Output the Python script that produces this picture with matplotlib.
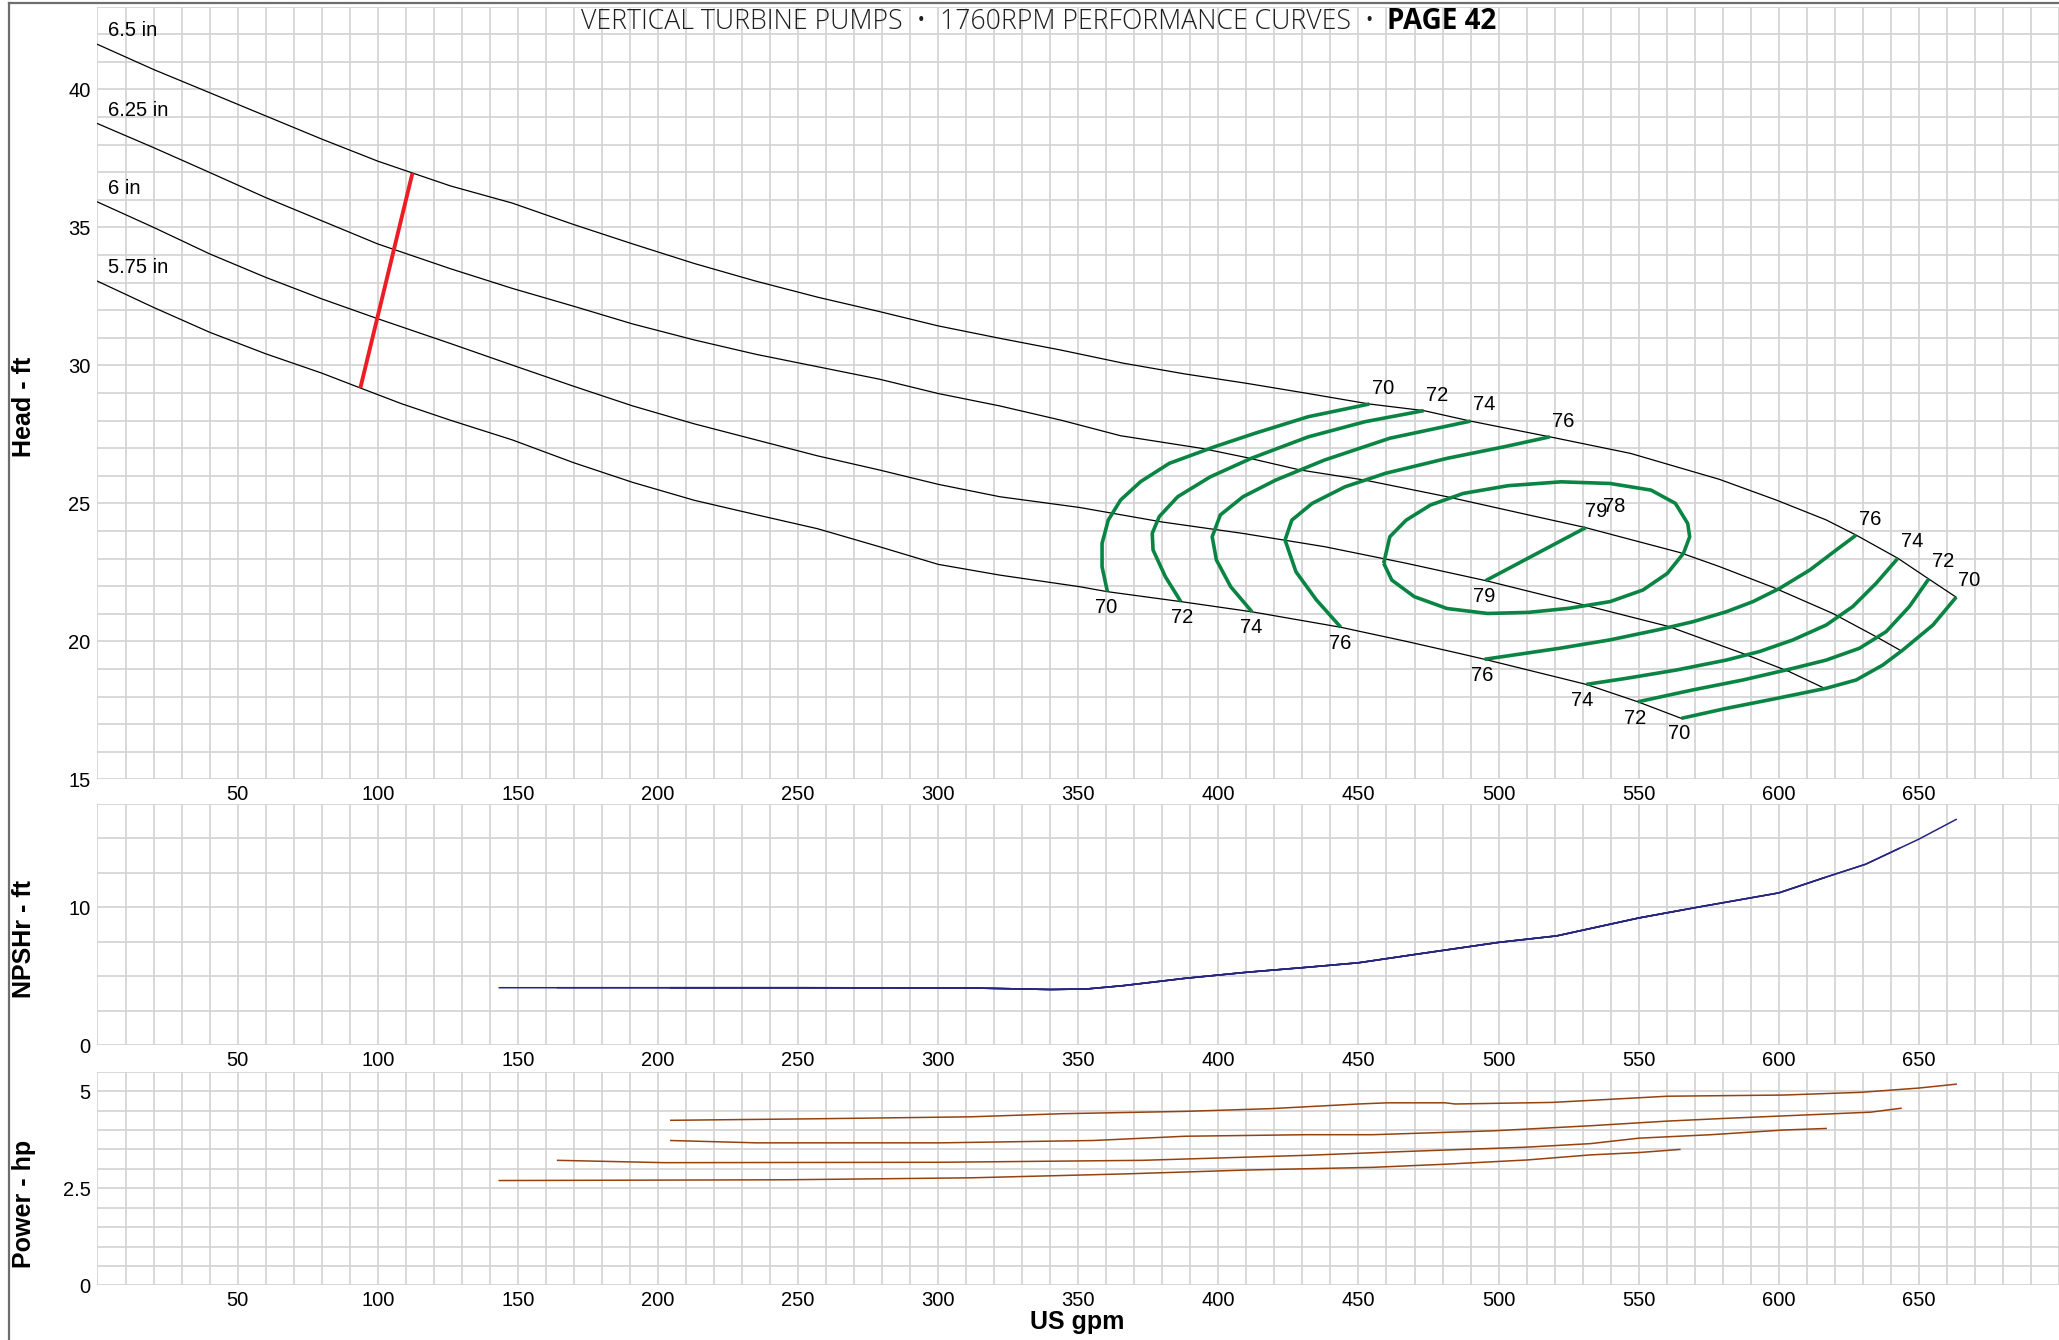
import numpy as np
import matplotlib
matplotlib.use("Agg")
import matplotlib.pyplot as plt
from matplotlib.lines import Line2D

plt.rcParams['font.family'] = ['Liberation Sans', 'DejaVu Sans']

# head curves, one per impeller diameter (gpm, ft)
diameters = ['6.5 in', '6.25 in', '6 in', '5.75 in']
head_flow = [
    [0, 20, 40, 60, 80, 100, 112.4, 126, 148, 170, 191, 213, 235, 257, 279, 300, 322, 344, 366, 388,
     410, 432, 453.9, 473.3, 490, 518.3, 547.1, 578.8, 599.1, 616.9, 627.6, 642.5, 653.5, 663.3],
    [0, 20, 40, 60, 80, 100, 126, 148, 170, 191, 213, 235, 257, 279, 300, 322, 344, 365.1, 394.2, 410,
     429.1, 452.4, 481.6, 510.7, 530.7, 564.6, 578.8, 597.9, 619.3, 634.7, 643.1],
    [0, 20, 40, 60, 80, 100, 126, 148, 170, 191, 213, 235, 257, 279, 300, 322, 350.5, 379.6, 408.8,
     437.9, 467, 495.4, 528, 561, 587.2, 603.8, 616.3],
    [0, 20, 40, 60, 80, 93.8, 108.5, 126, 148, 170, 191, 213, 235, 257, 279, 300, 322, 350.5, 360.4,
     386.6, 412, 443.7, 467, 486.1, 495, 531.3, 549.7, 565.2],
]
head_ft = [
    [41.63, 40.72, 39.88, 39.04, 38.2, 37.4, 36.97, 36.5, 35.88, 35.1, 34.4, 33.69, 33.05, 32.47, 31.95,
     31.43, 30.98, 30.55, 30.08, 29.69, 29.35, 28.98, 28.6, 28.36, 27.98, 27.41, 26.81, 25.87, 25.12,
     24.4, 23.85, 23.01, 22.26, 21.6],
    [38.76, 37.89, 36.99, 36.08, 35.24, 34.4, 33.5, 32.79, 32.14, 31.5, 30.92, 30.4, 29.95, 29.5, 28.98,
     28.53, 28.01, 27.45, 26.99, 26.66, 26.21, 25.84, 25.24, 24.58, 24.13, 23.22, 22.71, 21.96, 21.01,
     20.17, 19.69],
    [35.92, 35.0, 34.04, 33.19, 32.41, 31.69, 30.79, 30.01, 29.24, 28.53, 27.88, 27.3, 26.72, 26.21, 25.69,
     25.24, 24.85, 24.33, 23.91, 23.43, 22.83, 22.2, 21.38, 20.53, 19.56, 18.9, 18.3],
    [33.05, 32.1, 31.2, 30.42, 29.72, 29.18, 28.61, 28.01, 27.3, 26.47, 25.76, 25.11, 24.59, 24.08, 23.43,
     22.79, 22.4, 21.98, 21.8, 21.44, 21.07, 20.51, 20.0, 19.56, 19.35, 18.44, 17.81, 17.21],
]
diam_label_ft = [42.13, 39.24, 36.42, 33.55]

# minimum flow line
minflow_gpm = [112.4, 93.8]
minflow_ft = [36.97, 29.18]

# efficiency contours (gpm, ft)
eff_lines = [
    ([360.4, 358.5, 358.5, 360.7, 365.1, 372.3, 382.5, 398.6, 413.1, 432.1, 453.9],
     [21.8, 22.7, 23.55, 24.39, 25.12, 25.79, 26.45, 27.05, 27.54, 28.14, 28.6]),
    ([386.6, 381.1, 376.7, 376.4, 378.9, 385.5, 397.1, 411.7, 432.1, 452.4, 473.3],
     [21.44, 22.34, 23.31, 23.91, 24.52, 25.24, 25.96, 26.63, 27.41, 27.96, 28.36]),
    ([412.0, 404.4, 399.3, 397.8, 400.7, 408.8, 420.4, 437.9, 461.2, 490.0],
     [21.07, 21.98, 22.95, 23.79, 24.58, 25.24, 25.84, 26.57, 27.36, 27.98]),
    ([443.7, 435.0, 427.7, 423.8, 426.2, 433.5, 445.2, 459.7, 481.6, 502.0, 518.3],
     [20.51, 21.5, 22.52, 23.67, 24.39, 25.0, 25.6, 26.09, 26.63, 27.05, 27.41]),
    ([627.6, 620.5, 611.0, 600.3, 590.8, 581.2, 569.3, 557.5, 539.6, 521.8, 495.0],
     [23.85, 23.31, 22.58, 21.92, 21.44, 21.07, 20.71, 20.43, 20.05, 19.75, 19.35]),
    ([642.5, 634.7, 626.4, 616.9, 605.0, 593.1, 581.2, 563.4, 545.6, 531.3],
     [23.01, 22.1, 21.26, 20.59, 20.05, 19.63, 19.32, 18.96, 18.66, 18.44]),
    ([653.5, 646.6, 638.3, 628.8, 616.9, 605.0, 587.2, 569.3, 549.7],
     [22.26, 21.26, 20.35, 19.75, 19.32, 19.02, 18.6, 18.24, 17.81]),
    ([663.3, 655.0, 644.3, 637.1, 627.6, 616.9, 599.1, 581.2, 565.2],
     [21.6, 20.59, 19.69, 19.14, 18.6, 18.3, 17.93, 17.57, 17.21]),
    ([495.4, 531.1], [22.2, 24.12]),
    ([459.0, 461.2, 467.0, 475.7, 487.4, 503.4, 522.3, 539.8, 554.4, 563.1, 567.5, 568.2, 566.0, 560.2,
      551.5, 539.8, 525.3, 510.7, 496.1, 481.6, 469.9, 461.9, 459.0],
     [22.83, 23.79, 24.39, 24.94, 25.36, 25.64, 25.78, 25.72, 25.48, 25.0, 24.27, 23.79, 23.19, 22.46,
      21.86, 21.44, 21.2, 21.05, 21.01, 21.19, 21.62, 22.22, 22.83]),
]
eff_text = ['70', '72', '74', '76', '70', '72', '74', '76', '76', '74', '72', '70',
            '76', '74', '72', '70', '79', '79', '78']
eff_text_gpm = [458.7, 478.0, 494.8, 523.0, 360.0, 386.9, 411.7, 443.6, 632.5, 647.5, 658.5, 668.1,
                494.1, 529.9, 548.7, 564.4, 494.8, 535.0, 541.4]
eff_text_ft = [29.16, 28.92, 28.58, 27.98, 21.23, 20.87, 20.49, 19.92, 24.42, 23.61, 22.88, 22.22,
               18.78, 17.85, 17.21, 16.66, 21.64, 24.7, 24.88]

# NPSHr
npsh_gpm = [143.4, 200, 250, 309.5, 325, 340, 353, 366, 388, 410, 432, 450, 470.7, 500, 520.7, 550,
            570.7, 600, 617.2, 631, 650, 663.3]
npsh_ft = [4.17, 4.17, 4.17, 4.16, 4.1, 4.04, 4.08, 4.32, 4.85, 5.29, 5.66, 5.98, 6.6, 7.46, 7.93, 9.23,
           10.0, 11.05, 12.22, 13.13, 14.95, 16.38]
npsh_start = [204.6, 204.6, 164.2, 143.4]
npsh_end = [663.3, 643.1, 616.2, 566.0]

# power curves
power_gpm = [
    [204.6, 257, 311.6, 344.4, 388.1, 418.7, 450, 460.3, 481, 484.5, 501.7, 519, 539.7, 560.3, 601.7,
     629.3, 650, 663.3],
    [204.6, 235.2, 300.7, 355.3, 388.1, 431.8, 455.2, 498.3, 532.8, 560.3, 581, 610.3, 632.8, 643.6],
    [164.2, 202.4, 300.7, 372.8, 431.8, 463.8, 510.3, 532.8, 550, 575.9, 601.7, 616.9],
    [143.4, 246.1, 311.6, 366.3, 410, 455.2, 481, 510.3, 532.8, 550, 564.7],
]
power_hp = [
    [4.25, 4.29, 4.34, 4.42, 4.48, 4.55, 4.67, 4.70, 4.70, 4.67, 4.69, 4.71, 4.79, 4.87, 4.90, 4.97,
     5.08, 5.18],
    [3.73, 3.67, 3.67, 3.73, 3.84, 3.88, 3.88, 3.98, 4.11, 4.23, 4.30, 4.39, 4.46, 4.56],
    [3.22, 3.16, 3.17, 3.22, 3.35, 3.44, 3.56, 3.65, 3.79, 3.88, 4.0, 4.04],
    [2.70, 2.72, 2.77, 2.87, 2.97, 3.04, 3.12, 3.23, 3.36, 3.42, 3.50],
]

x_ticks = list(range(50, 700, 50))
grid_col = '#d2d2d2'
green = '#0a8443'

fig = plt.figure(figsize=(20.59, 13.4), dpi=100)
ax1 = fig.add_axes([0.04735, 0.4184, 0.95265, 0.5767])
ax2 = fig.add_axes([0.04735, 0.2200, 0.95265, 0.1800])
ax3 = fig.add_axes([0.04735, 0.0407, 0.95265, 0.1595])


def style(ax, ylo, ymax, ystep, yticks, ylabels):
    ax.set_xlim(0, 700)
    ax.set_ylim(ylo, ymax)
    ax.set_xticks(x_ticks)
    ax.set_xticklabels([str(v) for v in x_ticks])
    ax.set_yticks(yticks)
    ax.set_yticklabels(ylabels)
    for v in np.arange(0, 701, 10):
        ax.axvline(v, color=grid_col, lw=1.2, zorder=0)
    for v in np.arange(ylo, ymax + 0.001, ystep):
        ax.axhline(v, color=grid_col, lw=1.2, zorder=0)
    for s in ax.spines.values():
        s.set_visible(False)
    ax.tick_params(which='both', length=0, labelsize=14.5, pad=5, colors='black')
    ax.tick_params(axis='x', pad=4)


style(ax1, 15, 43, 1, [15, 20, 25, 30, 35, 40], ['15', '20', '25', '30', '35', '40'])
style(ax2, 0, 17.5, 2.5, [0, 10], ['0', '10'])
style(ax3, 0, 5.5, 0.5, [0, 2.5, 5], ['0', '2.5', '5'])

# head vs flow
for i in range(len(diameters)):
    ax1.plot(head_flow[i], head_ft[i], color='black', lw=0.9, zorder=3)
    ax1.text(3.7, diam_label_ft[i], diameters[i], fontsize=14.5, ha='left', va='center', zorder=5)

for xs, ys in eff_lines:
    ax1.plot(xs, ys, color=green, lw=2.6, zorder=4, solid_capstyle='butt', solid_joinstyle='round')
for t, x, y in zip(eff_text, eff_text_gpm, eff_text_ft):
    ax1.text(x, y, t, fontsize=14.5, ha='center', va='center', zorder=5)

ax1.plot(minflow_gpm, minflow_ft, color='#ee1c25', lw=2.8, zorder=4, solid_capstyle='butt')

# NPSHr
nq = np.array(npsh_gpm)
nh = np.array(npsh_ft)
for s, e in zip(npsh_start, npsh_end):
    m = (nq >= s) & (nq <= e)
    xs = np.concatenate([[s], nq[m], [e]])
    ys = np.concatenate([[np.interp(s, nq, nh)], nh[m], [np.interp(e, nq, nh)]])
    ax2.plot(xs, ys, color='#262680', lw=1.1, zorder=3)

# power
for xs, ys in zip(power_gpm, power_hp):
    ax3.plot(xs, ys, color='#94420f', lw=1.1, zorder=3)

# axis titles
fig.text(0.0115, 0.696, 'Head - ft', rotation=90, fontsize=18, fontweight='bold', ha='center', va='center')
fig.text(0.0115, 0.299, 'NPSHr - ft', rotation=90, fontsize=18, fontweight='bold', ha='center', va='center')
fig.text(0.0115, 0.1015, 'Power - hp', rotation=90, fontsize=18, fontweight='bold', ha='center', va='center')
fig.text(0.523, 0.0134, 'US gpm', fontsize=18, fontweight='bold', ha='center', va='center')

# page header
fig.text(0.6675, 0.9836, 'VERTICAL TURBINE PUMPS  \u2022  1760RPM PERFORMANCE CURVES  \u2022',
         fontsize=19.2, fontweight='light', family=['Open Sans', 'DejaVu Sans'], ha='right', va='center',
         color='#1e1e1e')
fig.text(0.6734, 0.9836, 'PAGE 42', fontsize=20, fontweight='bold', family=['Open Sans', 'DejaVu Sans'],
         ha='left', va='center')

# page frame
fig.add_artist(Line2D([0.0044, 0.0044], [0, 0.998], transform=fig.transFigure, color='#6e6e6e', lw=1.6))
fig.add_artist(Line2D([0.0044, 1], [0.998, 0.998], transform=fig.transFigure, color='#6e6e6e', lw=1.6))

fig.savefig('out.png', dpi=100)
